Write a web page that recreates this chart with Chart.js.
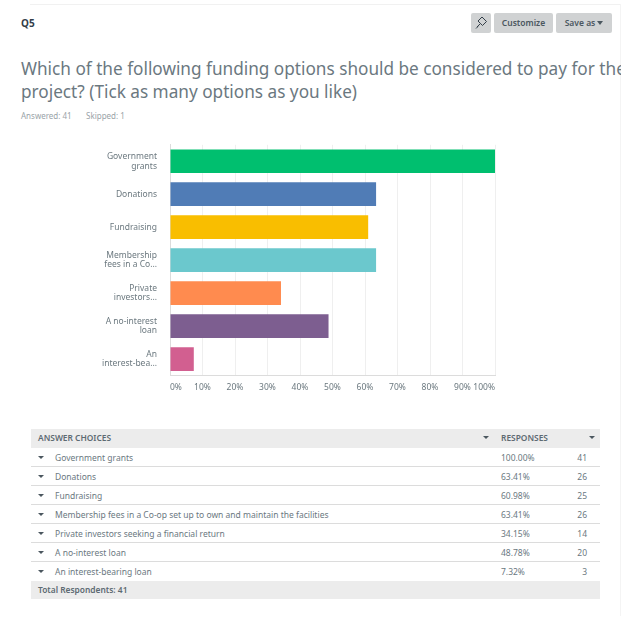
<!DOCTYPE html>
<html>
<head>
<meta charset="utf-8">
<script src="https://cdn.jsdelivr.net/npm/chart.js@4"></script>
<style>
html, body { margin: 0; padding: 0; background: #fff; }
body { position: relative; width: 621px; height: 620px; overflow: hidden; font-family: "Noto Sans", sans-serif; color: #6b787f; }
.abs { position: absolute; white-space: nowrap; }
.topline { left: 30px; right: 0; top: 4px; height: 1px; background: #f1f1f1; }
.sideline { left: 620px; top: 4px; width: 1px; height: 612px; background: #f4f4f4; }
.q { left: 21px; top: 16px; font-size: 10px; line-height: 14px; font-weight: 700; color: #333e48; }
.btn { top: 13px; height: 20px; background: #d0d2d3; border-radius: 2px; font-size: 8.5px; line-height: 20px; font-weight: 600; color: #4b575f; text-align: center; }
.title { left: 21px; top: 57px; font-size: 17.2px; line-height: 23px; color: #6b787f; }
.meta { top: 110px; font-size: 8px; line-height: 11px; color: #9aa3a8; }
#wrap { position: absolute; left: 90px; top: 130px; width: 420px; height: 270px; }
.head { top: 429px; height: 18.5px; background: #ececec; }
.foot { left: 31px; top: 580.5px; width: 569px; height: 18.5px; background: #ececec; }
.hd { font-size: 8.4px; line-height: 18px; font-weight: 600; color: #5d6a72; }
.cell { font-size: 8.5px; line-height: 19px; color: #6b787f; }
.rule { left: 31px; width: 569px; height: 1px; background: #dcdcdc; }
.tri { width: 0; height: 0; border-left: 3px solid transparent; border-right: 3px solid transparent; border-top: 3px solid #4b575f; }
</style>
</head>
<body>
<div class="abs topline"></div>
<div class="abs sideline"></div>
<div class="abs q">Q5</div>
<div class="abs btn" style="left:471px;width:20px">
	<svg width="20" height="20" viewBox="0 0 20 20"><path d="M6 14 L9.5 10.5 L7 8 L11 4 L15.5 8.5 L11.5 12.5 L9.5 10.5 M5 15.5 L7 13.5" fill="none" stroke="#333e48" stroke-width="1"/></svg>
</div>
<div class="abs btn" style="left:494px;width:59px">Customize</div>
<div class="abs btn" style="left:556px;width:56px">Save as<span class="tri" style="display:inline-block;margin-left:2px;vertical-align:1px;border-left-width:3.5px;border-right-width:3.5px;border-top-width:4px"></span></div>
<div class="abs title">Which of the following funding options should be considered to pay for the<br>project? (Tick as many options as you like)</div>
<div class="abs meta" style="left:21px">Answered: 41</div>
<div class="abs meta" style="left:86px">Skipped: 1</div>
<div id="wrap"><canvas id="q5Chart"></canvas></div>
<div class="abs head" style="left:31px;width:461.5px"></div>
<div class="abs head" style="left:493px;width:107px"></div>
<div class="abs hd" style="left:38px;top:429px">ANSWER CHOICES</div>
<div class="abs hd" style="left:501px;top:429px">RESPONSES</div>
<div class="abs tri" style="left:483px;top:436px"></div>
<div class="abs tri" style="left:589px;top:436px"></div>
<div id="rows"></div>
<div class="abs foot"></div>
<div class="abs hd" style="left:38px;top:581px">Total Respondents: 41</div>
<script>
const shortLabels = [['Government','grants'],'Donations','Fundraising',['Membership','fees in a Co...'],['Private','investors...'],['A no-interest','loan'],['An','interest-bea...']];
const fullLabels = ['Government grants','Donations','Fundraising','Membership fees in a Co-op set up to own and maintain the facilities','Private investors seeking a financial return','A no-interest loan','An interest-bearing loan'];
const percents = [100, 63.41, 60.98, 63.41, 34.15, 48.78, 7.32];
const counts = [41, 26, 25, 26, 14, 20, 3];
const barColors = ['#00bf6f','#507cb6','#f9be00','#6bc8cd','#ff8b4f','#7d5e90','#d25f90'];
const xTicks = [0,10,20,30,40,50,60,70,80,90,100];

// table rows
const rowsEl = document.getElementById('rows');
let rowsHtml = '';
fullLabels.forEach((name, i) => {
	const y = 447.5 + i * 19;
	rowsHtml += '<div class="abs tri" style="left:38px;top:' + (y + 8) + 'px"></div>';
	rowsHtml += '<div class="abs cell" style="left:55px;top:' + y + 'px">' + name + '</div>';
	rowsHtml += '<div class="abs cell" style="left:501px;top:' + y + 'px">' + percents[i].toFixed(2) + '%</div>';
	rowsHtml += '<div class="abs cell" style="right:34px;top:' + y + 'px">' + counts[i] + '</div>';
	if (i < fullLabels.length - 1) rowsHtml += '<div class="abs rule" style="top:' + (y + 18.5) + 'px"></div>';
});
rowsEl.innerHTML = rowsHtml;

// bar chart
new Chart(document.getElementById('q5Chart').getContext('2d'), {
	type: 'bar',
	data: {
		labels: shortLabels,
		datasets: [{
			data: percents,
			backgroundColor: barColors,
			barPercentage: 0.72,
			categoryPercentage: 1
		}]
	},
	options: {
		indexAxis: 'y',
		responsive: true,
		maintainAspectRatio: false,
		animation: false,
		layout: { padding: { top: 7.5, right: 15, left: 0, bottom: 0 } },
		plugins: { legend: { display: false }, tooltip: { enabled: false } },
		scales: {
			x: {
				min: 0,
				max: 100,
				afterBuildTicks: (scale) => { scale.ticks = xTicks.map(v => ({ value: v })); },
				afterFit: (scale) => { scale.height = 24.5; },
				border: { color: '#dcdcdc' },
				grid: { color: '#efefef', drawTicks: false },
				ticks: {
					color: '#6b787f',
					padding: 7,
					maxRotation: 0,
					autoSkip: false,
					align: 'inner',
					font: { family: 'Noto Sans', size: 8.5 },
					callback: (v) => v + '%'
				}
			},
			y: {
				afterFit: (scale) => { scale.width = 80; },
				border: { color: '#dcdcdc' },
				grid: { display: false },
				ticks: {
					color: '#6b787f',
					padding: 5,
					autoSkip: false,
					font: { family: 'Noto Sans', size: 8.5, lineHeight: 1.15 }
				}
			}
		}
	}
});
</script>
</body>
</html>
